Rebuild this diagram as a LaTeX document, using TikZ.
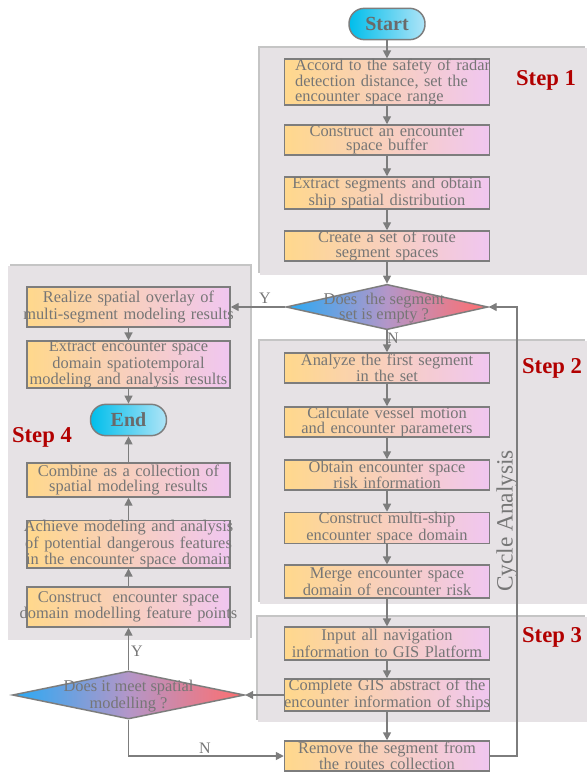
\documentclass[tikz,border=0pt]{standalone}
\usepackage{fontspec}
\setmainfont{Liberation Serif}
\usetikzlibrary{arrows.meta,shapes.geometric,shadows}
\definecolor{txt}{RGB}{118,118,118}
\definecolor{edge}{RGB}{125,125,125}
\definecolor{panel}{RGB}{230,226,229}
\definecolor{stepred}{RGB}{178,0,0}
\definecolor{boxl}{RGB}{255,216,140}
\definecolor{boxr}{RGB}{240,198,240}
\definecolor{cyanl}{RGB}{0,190,235}
\definecolor{cyanr}{RGB}{175,228,247}
\definecolor{dl}{RGB}{40,170,245}
\definecolor{dm}{RGB}{180,150,200}
\definecolor{dr}{RGB}{255,110,110}
\begin{document}
\begin{tikzpicture}[x=0.75pt,y=-0.75pt,
  box/.style={draw=edge, line width=1.1pt, left color=boxl, right color=boxr,
    minimum width=153.75pt, text width=153.75pt, inner sep=0pt,
    text=txt, font=\fontsize{12.3}{10.8}\selectfont,
    execute at begin node={\centering\leftskip=-30pt plus 1fil\rightskip=-30pt plus 1fil\hyphenpenalty=10000\relax}},
  lbox/.style={box, minimum width=152.25pt, text width=152.25pt},
  term/.style={draw=edge, line width=1.1pt, left color=cyanl, right color=cyanr,
    rounded corners=11.5pt, minimum width=57pt, minimum height=23.5pt, inner sep=0pt,
    text=txt!90!black, font=\fontsize{15}{16}\selectfont\bfseries},
  dia/.style={diamond, draw=edge, line width=1.1pt, left color=dl, right color=dr, middle color=dm,
    inner sep=0pt},
  dtext/.style={align=center, text=txt, font=\fontsize{12.3}{10.8}\selectfont, inner sep=0pt},
  steplbl/.style={text=stepred, font=\fontsize{17}{18}\selectfont\bfseries, inner sep=0pt},
  yn/.style={text=txt, font=\fontsize{12}{12}\selectfont, inner sep=0pt},
  arr/.style={draw=edge, line width=1.1pt, -{Triangle[length=6pt,width=6pt]}}
]
\useasboundingbox (0,0) rectangle (587,773);
\fill[white] (0,0) rectangle (587,773);

% panels
\fill[panel, drop shadow={shadow xshift=-1.2pt, shadow yshift=1.5pt, opacity=0.45}] (260,48) rectangle (587,275);
\fill[panel, drop shadow={shadow xshift=-1.2pt, shadow yshift=1.5pt, opacity=0.45}] (260,341) rectangle (587,604);
\fill[panel, drop shadow={shadow xshift=-1.2pt, shadow yshift=1.5pt, opacity=0.45}] (258,617) rectangle (587,722);
\fill[panel, drop shadow={shadow xshift=1.5pt, shadow yshift=1.5pt, opacity=0.45}] (8,266) rectangle (250,640);

% step labels
\node[steplbl] (st1) at (546,80) {Step 1};
\node[steplbl] (st2) at (552,368) {Step 2};
\node[steplbl] (st3) at (552,637) {Step 3};
\node[steplbl] (st4) at (42,437) {Step 4};
\node[rotate=90, text=txt, font=\fontsize{17.5}{19}\selectfont, inner sep=0pt] (cycle) at (507,521) {Cycle Analysis};

% right column
\node[term] (start) at (387,24) {Start};
\node[box, minimum height=31.5pt, execute at begin node={\raggedright\leftskip=8pt\rightskip=-40pt plus 1fil\hyphenpenalty=10000\relax}] (b1) at (387,82) {Accord to the safety of radar\\ detection distance, set the\\ encounter space range};
\node[box, minimum height=22.5pt] (b2) at (387,140) {Construct an encounter\\ space buffer};
\node[box, minimum height=24pt] (b3) at (387,193) {Extract segments and obtain\\ ship spatial distribution};
\node[box, minimum height=22.5pt] (b4) at (387,246) {Create a set of route\\ segment spaces};

\node[dia, minimum width=151.5pt, minimum height=34pt] (d1) at (387,307) {};
\node[dtext] (d1t) at (384,308) {Does\ \ the segment\\ set is empty ?};

\node[box, minimum height=22.5pt] (s2a) at (387,368) {Analyze the first segment\\ in the set};
\node[box, minimum height=22.5pt] (s2b) at (387,422) {Calculate vessel motion\\ and encounter parameters};
\node[box, minimum height=22.5pt] (s2c) at (387,475) {Obtain encounter space\\ risk information};
\node[box, minimum height=22.5pt] (s2d) at (387,528) {Construct multi-ship\\ encounter space domain};
\node[box, minimum height=24.5pt] (s2e) at (387,581.5) {Merge encounter space\\ domain of encounter risk};

\node[box, minimum height=24.5pt] (s3a) at (387,643.5) {Input all navigation\\ information to GIS Platform};
\node[box, minimum height=24pt] (s3b) at (387,695) {Complete GIS abstract of the\\ encounter information of ships};
\node[box, minimum height=22.5pt] (rm) at (387,756) {Remove the segment from\\ the routes collection};

% left column
\node[lbox, minimum height=30pt] (r1) at (128.5,307) {Realize spatial overlay of\\ multi-segment modeling results};
\node[lbox, minimum height=34pt] (r2) at (128.5,364.5) {Extract encounter space\\ domain spatiotemporal\\ modeling and analysis results};
\node[term] (end) at (128.5,420) {End};
\node[lbox, minimum height=25.5pt] (r3) at (128.5,480) {Combine as a collection of\\ spatial modeling results};
\node[lbox, minimum height=31.5pt] (r4) at (128.5,544) {Achieve modeling and analysis\\ of potential dangerous features\\ in the encounter space domain};
\node[lbox, minimum height=30pt] (r5) at (128.5,607) {Construct\ \ encounter space\\ domain modelling feature points};

\node[dia, minimum width=174pt, minimum height=36pt] (d2) at (128.5,695) {};
\node[dtext] (d2t) at (128.5,696) {Does it meet spatial\\ modelling ?};

% connectors
\draw[arr] (start) -- (b1);
\draw[arr] (b1) -- (b2);
\draw[arr] (b2) -- (b3);
\draw[arr] (b3) -- (b4);
\draw[arr] (b4) -- (d1);
\draw[arr] (d1) -- (s2a);
\draw[arr] (s2a) -- (s2b);
\draw[arr] (s2b) -- (s2c);
\draw[arr] (s2c) -- (s2d);
\draw[arr] (s2d) -- (s2e);
\draw[arr] (s2e) -- (s3a);
\draw[arr] (s3a) -- (s3b);
\draw[arr] (s3b) -- (rm);
\draw[arr] (s3b.west) -- (d2.east);
\draw[arr] (d2) -- (r5);
\draw[arr] (d2.south) |- (rm.west);
\coordinate (cyc) at (517,756);
\draw[arr] (rm.east) -- (cyc) |- (d1.east);
\draw[arr] (d1.west) -- (r1.east);
\draw[arr] (r1) -- (r2);
\draw[arr] (r2) -- (end);
\draw[arr] (r5) -- (r4);
\draw[arr] (r4) -- (r3);
\draw[arr] (r3) -- (end);

% Y / N labels
\node[yn] (y1) at (265,298) {Y};
\node[yn] (n1) at (393,338) {N};
\node[yn] (y2) at (137,651) {Y};
\node[yn] (n2) at (205,748) {N};
\end{tikzpicture}
\end{document}
